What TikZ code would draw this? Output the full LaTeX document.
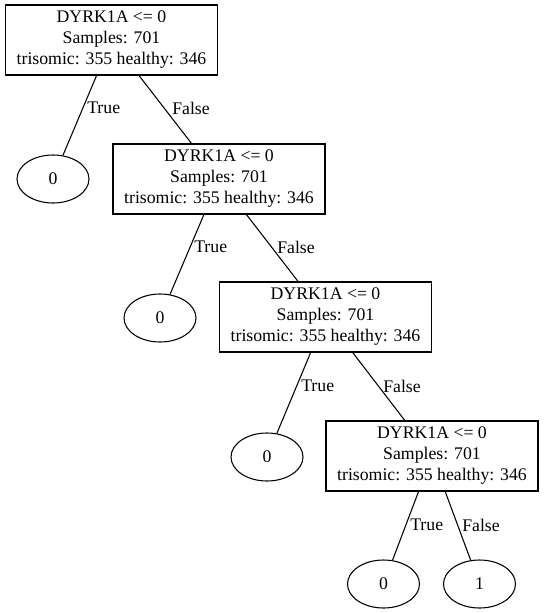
\documentclass[tikz,border=0pt]{standalone}
\usepackage{fontspec}
\setmainfont{Liberation Serif}
\usetikzlibrary{shapes.geometric}
\begin{document}
\begin{tikzpicture}[x=0.75pt,y=-0.75pt,
  every node/.style={font=\fontsize{13.3}{15.75}\selectfont},
  split/.style={draw,line width=0.8pt,rectangle,minimum width=159pt,minimum height=52.5pt,inner sep=0pt,align=center},
  leaf/.style={draw,line width=0.8pt,ellipse,minimum width=54pt,minimum height=36pt,inner sep=0pt},
  elabel/.style={anchor=west,inner sep=0pt},
  conn/.style={line width=0.8pt}]
\useasboundingbox (0,0) rectangle (543,613);
\node[split] (B1) at (111.5,40) {DYRK1A <= 0\\Samples: 701\\trisomic: 355 healthy: 346};
\node[split] (B2) at (219,179) {DYRK1A <= 0\\Samples: 701\\trisomic: 355 healthy: 346};
\node[split] (B3) at (325.5,317) {DYRK1A <= 0\\Samples: 701\\trisomic: 355 healthy: 346};
\node[split] (B4) at (432,456) {DYRK1A <= 0\\Samples: 701\\trisomic: 355 healthy: 346};
\node[leaf] (L1) at (53,179) {0};
\node[leaf] (L2) at (160,318) {0};
\node[leaf] (L3) at (267,457) {0};
\node[leaf] (L4) at (383.5,584) {0};
\node[leaf] (L5) at (479.5,584) {1};
\draw[conn] (B1) -- (L1);
\draw[conn] (B1) -- (B2);
\draw[conn] (B2) -- (L2);
\draw[conn] (B2) -- (B3);
\draw[conn] (B3) -- (L3);
\draw[conn] (B3) -- (B4);
\draw[conn] (B4) -- (L4);
\draw[conn] (B4) -- (L5);
\node[elabel] (T1) at (87,108) {True};
\node[elabel] (F1) at (172,108) {False};
\node[elabel] (T2) at (194,247) {True};
\node[elabel] (F2) at (277,247) {False};
\node[elabel] (T3) at (301,386) {True};
\node[elabel] (F3) at (383,386) {False};
\node[elabel] (T4) at (410,525) {True};
\node[elabel] (F4) at (462,525) {False};
\end{tikzpicture}
\end{document}
